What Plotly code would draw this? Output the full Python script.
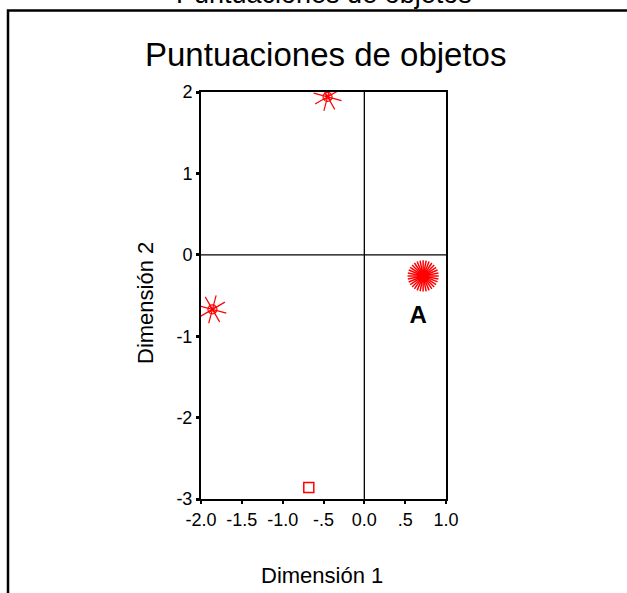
import plotly.graph_objects as go

# Data
star_x = [-0.45, -1.86]
star_y = [1.94, -0.67]
burst_x = [0.72]
burst_y = [-0.26]
square_x = [-0.68]
square_y = [-2.86]
label_x = [0.66]
label_y = [-0.76]
label_text = ["A"]
x_tickvals = [-2.0, -1.5, -1.0, -0.5, 0.0, 0.5, 1.0]
x_ticktext = ["-2.0", "-1.5", "-1.0", "-.5", "0.0", ".5", "1.0"]
y_tickvals = [-3, -2, -1, 0, 1, 2]
y_ticktext = ["-3", "-2", "-1", "0", "1", "2"]

RED = "#ff0000"
W, H = 627, 593
L, R, T, B = 201, 181, 92, 94
pw = W - L - R
ph = H - T - B

def px2paper_x(px):
    return (px - L) / pw

def px2paper_y(py):
    return (H - B - py) / ph

fig = go.Figure()

# asterisk markers
fig.add_trace(go.Scatter(x=star_x, y=star_y, mode="markers", hoverinfo="skip",
                         marker=dict(symbol="asterisk-open", size=24, angle=15, color=RED,
                                     line=dict(color=RED, width=1.2))))
fig.add_trace(go.Scatter(x=star_x, y=star_y, mode="markers", hoverinfo="skip",
                         marker=dict(symbol="circle-x-open", size=9, color=RED,
                                     line=dict(color=RED, width=1.2))))
# sunburst marker
for ang in [0, 11.25, 22.5, 33.75]:
    fig.add_trace(go.Scatter(x=burst_x, y=burst_y, mode="markers", hoverinfo="skip",
                             marker=dict(symbol="asterisk-open", size=26, angle=ang, color=RED,
                                         line=dict(color=RED, width=1.5))))
fig.add_trace(go.Scatter(x=burst_x, y=burst_y, mode="markers", hoverinfo="skip",
                         marker=dict(symbol="circle", size=12, color=RED)))
# square marker
fig.add_trace(go.Scatter(x=square_x, y=square_y, mode="markers", hoverinfo="skip",
                         marker=dict(symbol="square-open", size=10, color=RED,
                                     line=dict(color=RED, width=1.5))))
# label
fig.add_trace(go.Scatter(x=label_x, y=label_y, mode="text", text=label_text, hoverinfo="skip",
                         textfont=dict(family="Liberation Sans, Arial", size=24, color="black", weight="bold")))

# reference lines at 0
fig.add_shape(type="line", xref="x", yref="y", x0=0, x1=0, y0=-3, y1=2,
              line=dict(color="black", width=1.3))
fig.add_shape(type="line", xref="x", yref="y", x0=-2, x1=1, y0=0, y1=0,
              line=dict(color="black", width=1.3))

# outer frame (clipped)
fig.add_shape(type="rect", xref="paper", yref="paper",
              x0=px2paper_x(8), x1=px2paper_x(640), y0=px2paper_y(620), y1=px2paper_y(10.5),
              line=dict(color="black", width=2.5), fillcolor="rgba(0,0,0,0)", layer="below")

font = "Liberation Sans, Arial, sans-serif"

# clipped page title at very top
fig.add_annotation(xref="paper", yref="paper", x=px2paper_x(324), y=px2paper_y(11),
                   text="Puntuaciones de objetos", showarrow=False, yanchor="bottom",
                   font=dict(family=font, size=27, color="black"))
# chart title
fig.add_annotation(xref="paper", yref="paper", x=px2paper_x(325), y=px2paper_y(54),
                   text="Puntuaciones de objetos", showarrow=False, yanchor="middle",
                   font=dict(family=font, size=33, color="black"))
# axis titles
fig.add_annotation(xref="paper", yref="paper", x=px2paper_x(322), y=px2paper_y(575),
                   text="Dimensión 1", showarrow=False, yanchor="middle", xanchor="center",
                   font=dict(family=font, size=22, color="black"))
fig.add_annotation(xref="paper", yref="paper", x=px2paper_x(145), y=px2paper_y(303),
                   text="Dimensión 2", showarrow=False, yanchor="middle", xanchor="center",
                   textangle=-90,
                   font=dict(family=font, size=22, color="black"))

fig.update_layout(
    width=W, height=H, autosize=False,
    margin=dict(l=L, r=R, t=T, b=B),
    paper_bgcolor="white", plot_bgcolor="white",
    showlegend=False,
    font=dict(family=font, size=17, color="black"),
    xaxis=dict(range=[-2, 1], tickvals=x_tickvals, ticktext=x_ticktext,
               showgrid=False, zeroline=False, showline=True, linecolor="black", linewidth=2,
               mirror=True, ticks="outside", ticklen=3, tickwidth=2, tickcolor="black",
               tickfont=dict(size=18)),
    yaxis=dict(range=[-3, 2], tickvals=y_tickvals, ticktext=y_ticktext,
               showgrid=False, zeroline=False, showline=True, linecolor="black", linewidth=2,
               mirror=True, ticks="outside", ticklen=3, tickwidth=3, tickcolor="black",
               tickfont=dict(size=18)),
)

fig.write_html("out.html", config={"displayModeBar": False},
               post_script="document.body.style.margin='0';")
